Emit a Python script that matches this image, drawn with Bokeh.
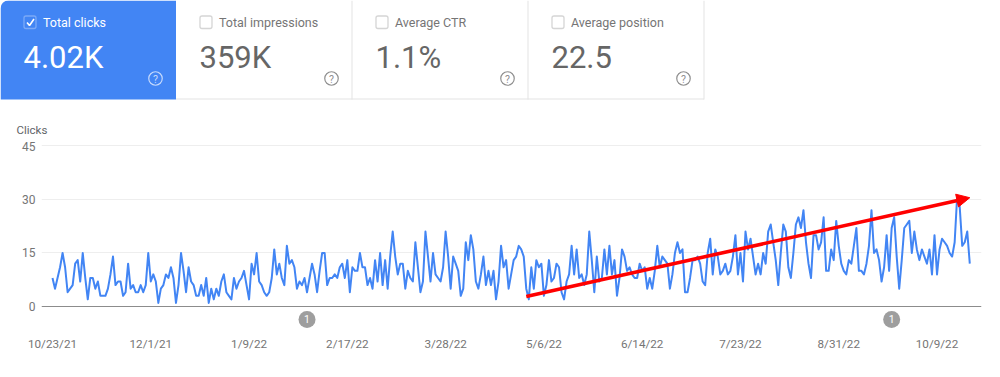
from datetime import date
from bokeh.plotting import figure
from bokeh.layouts import column
from bokeh.embed import file_html
from bokeh.resources import INLINE
from bokeh.models import (Range1d, FixedTicker, BoxAnnotation, Label, Arrow, NormalHead, Span)

START = date(2021, 10, 23)
clicks = [
 8,5,8,11,15,11,4,5,6,12,13,7,15,8,2,8,8,5,7,3,3,3,5,9,14,6,7,7,3,4,12,5,6,4,4,6,4,6,15,7,9,7,1,5,6,9,8,11,8,1,6,15,10,4,11,7,6,3,3,6,3,8,1,5,2,5,3,7,9,4,3,2,8,5,7,8,10,6,2,12,9,15,
 7,6,4,3,4,8,16,9,12,8,6,17,12,13,11,5,7,6,8,4,8,12,9,4,10,15,15,6,8,8,9,8,11,12,8,13,4,11,10,10,15,11,11,6,8,5,13,7,15,6,13,5,14,21,14,9,12,12,5,10,8,7,18,11,4,7,21,14,7,15,9,8,7,11,21,14,5,14,12,10,3,5,18,13,20,16,7,5,9,14,6,10,6,10,2,7,17,11,13,5,
 9,13,14,17,16,14,5,2,11,5,13,11,12,3,6,13,7,8,12,11,4,2,7,9,17,9,16,8,9,6,9,21,13,4,14,7,8,16,9,17,9,13,3,8,16,14,10,11,9,8,8,12,10,11,5,8,5,10,17,11,14,13,12,5,9,15,18,15,16,4,4,8,13,13,14,12,7,6,15,19,9,16,14,9,10,12,9,10,14,20,9,15,7,21,16,19,14,9,12,
 9,15,12,21,23,18,13,6,15,23,21,11,8,15,23,25,22,27,18,12,8,20,20,16,18,25,10,10,16,13,24,17,12,10,9,13,12,17,22,10,10,9,12,17,27,15,16,13,7,11,20,10,22,25,14,5,13,22,23,24,15,21,16,13,16,14,12,16,9,20,9,16,19,18,17,15,14,18,31,28,17,18,21,12,
]
tick_labels = ["10/23/21","12/1/21","1/9/22","2/17/22","3/28/22","5/6/22","6/14/22","7/23/22","8/31/22","10/9/22"]
tick_dates = [date(2021,10,23),date(2021,12,1),date(2022,1,9),date(2022,2,17),date(2022,3,28),date(2022,5,6),date(2022,6,14),date(2022,7,23),date(2022,8,31),date(2022,10,9)]
y_ticks = [0,15,30,45]
annotation_dates = [date(2022,2,1), date(2022,9,21)]
annotation_text = ["1","1"]
trend_start = (date(2022,4,29), 2.8)
trend_end = (date(2022,10,22), 30.5)

card_titles = ["Total clicks","Total impressions","Average CTR","Average position"]
card_values = ["4.02K","359K","1.1%","22.5"]
card_selected = [True, False, False, False]

days = lambda d: (d - START).days
FONT = "Roboto"
BLUE = "#4285f4"
GREY = "#757575"

# ---------- cards ----------
c = figure(width=1000, height=140, output_backend="svg", toolbar_location=None,
           x_range=Range1d(0,1000), y_range=Range1d(140,0),
           min_border=0, min_border_left=0, min_border_right=0, min_border_top=0, min_border_bottom=0,
           outline_line_color=None, x_axis_location=None, y_axis_location=None, frame_align=False)
c.grid.visible = False
CW = 176
c.add_layout(BoxAnnotation(left=0,right=175.5,top=0,bottom=99,fill_color=BLUE,fill_alpha=1,line_color=None,border_radius=(8,0,0,0),level="underlay"))
c.line([175.5,703.5],[98.5,98.5],line_color="#e3e3e3",line_width=1)
for i,(t,v,sel) in enumerate(zip(card_titles,card_values,card_selected)):
    x0 = i*CW
    if i>0:
        c.line([x0+175.5]*2,[0,99],line_color="#e3e3e3",line_width=1)
    fg = "#ffffff" if sel else "#757575"
    c.add_layout(BoxAnnotation(left=x0+23.5,right=x0+35.5,top=15.5,bottom=28,fill_alpha=0,line_color=fg,line_width=1.3,border_radius=2))
    if sel:
        c.line([x0+26.5,x0+29,x0+33.5],[22,25,18.5],line_color="#ffffff",line_width=1.6)
    c.add_layout(Label(x=x0+42.5,y=21.5,text=t,text_font=FONT,text_font_size="12.5px",text_color=fg,text_baseline="middle",text_align="left"))
    c.add_layout(Label(x=x0+23,y=56.5,text=v,text_font=FONT,text_font_size="31px",text_color="#ffffff" if sel else "#666666",text_baseline="middle",text_align="left"))
    ink = "#c6dafc" if sel else "#8f8f8f"
    c.scatter([x0+155],[78],size=13.5,marker="circle",fill_alpha=0,line_color=ink,line_width=1.2)
    c.add_layout(Label(x=x0+155,y=78.5,text="?",text_font=FONT,text_font_size="10.5px",text_color=ink,text_baseline="middle",text_align="center"))
c.add_layout(Label(x=16,y=129.5,text="Clicks",text_font=FONT,text_font_size="11.5px",text_color="#5f6368",text_baseline="middle",text_align="left"))

# ---------- chart ----------
PX_Y = 3.567
PX_X = 2.52
p = figure(width=1000, height=237, output_backend="svg", toolbar_location=None,
           x_range=Range1d(-11/PX_X, (981-52)/PX_X),
           y_range=Range1d(-(331-306)/PX_Y, (306-141)/PX_Y),
           min_border_left=41, min_border_right=19, min_border_top=1, min_border_bottom=46,
           outline_line_color=None, frame_align=False)
p.xgrid.visible = False
p.ygrid.ticker = FixedTicker(ticks=y_ticks[1:])
p.ygrid.grid_line_color = "#eeeeee"
p.ygrid.grid_line_width = 1
p.yaxis.ticker = FixedTicker(ticks=y_ticks)
p.yaxis.axis_line_color = None
p.yaxis.major_tick_line_color = None
p.yaxis.minor_tick_line_color = None
p.yaxis.major_tick_out = 0
p.yaxis.major_tick_in = 0
p.yaxis.major_label_standoff = 6
p.yaxis.major_label_text_font = FONT
p.yaxis.major_label_text_font_size = "12px"
p.yaxis.major_label_text_color = GREY

xt = [days(d) for d in tick_dates]
p.xaxis.ticker = FixedTicker(ticks=xt)
p.xaxis.major_label_overrides = dict(zip(xt, tick_labels))
p.xaxis.axis_line_color = None
p.xaxis.major_tick_line_color = None
p.xaxis.minor_tick_line_color = None
p.xaxis.major_tick_out = 0
p.xaxis.major_tick_in = 0
p.xaxis.major_label_standoff = 5
p.xaxis.major_label_text_font = FONT
p.xaxis.major_label_text_font_size = "11.7px"
p.xaxis.major_label_text_color = GREY

p.add_layout(Span(location=0, dimension="width", line_color="#8c8c8c", line_width=1))
p.line(list(range(len(clicks))), clicks, line_color=BLUE, line_width=2, line_join="round")

ax = [days(d) for d in annotation_dates]
ay = [-3.64]*len(ax)
p.scatter(ax, ay, size=17, marker="circle", fill_color="#9e9e9e", line_color=None)
p.text(ax, ay, text=annotation_text, text_color="#ffffff", text_font_size="10.5px",
       text_align="center", text_baseline="middle", text_font={"value":FONT})

p.add_layout(Arrow(x_start=days(trend_start[0]), y_start=trend_start[1],
                   x_end=days(trend_end[0]), y_end=trend_end[1],
                   line_color="#ff0000", line_width=3.6,
                   end=NormalHead(size=13, fill_color="#ff0000", line_color="#ff0000", line_width=1)))

layout = column(c, p, spacing=0)
open("out.html","w").write(file_html(layout, INLINE))
